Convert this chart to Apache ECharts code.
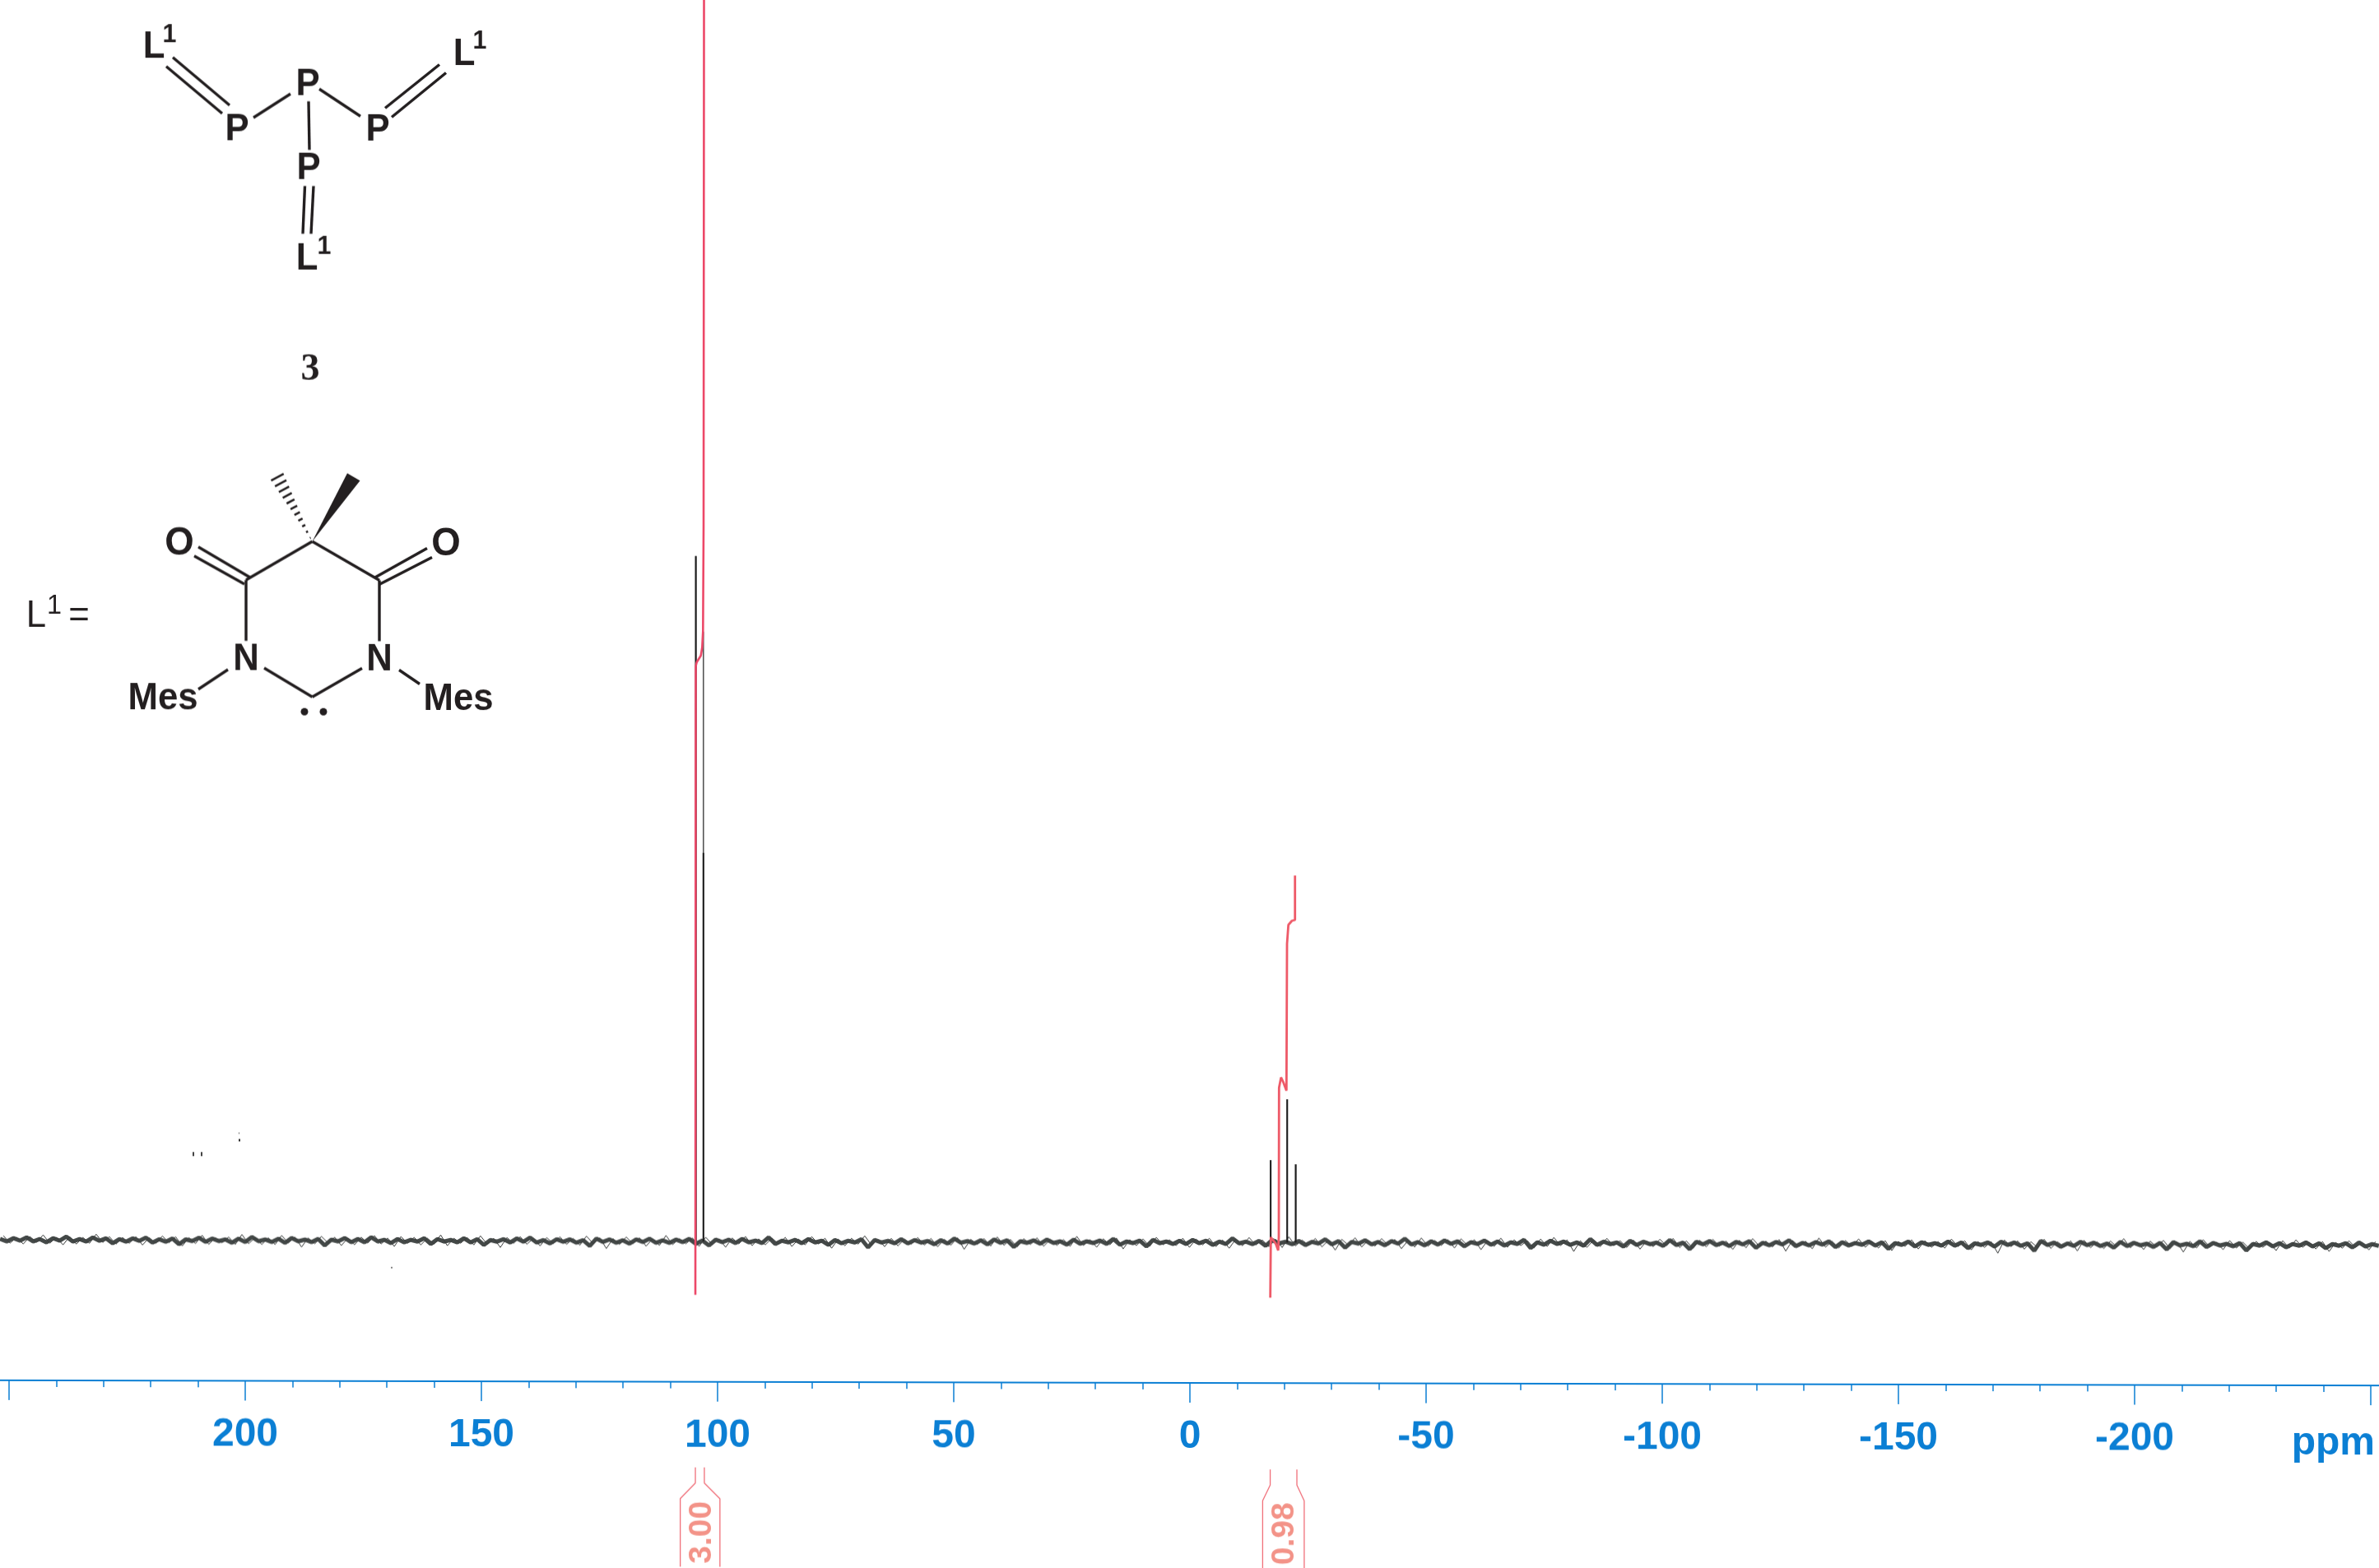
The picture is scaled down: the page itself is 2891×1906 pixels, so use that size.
<!DOCTYPE html>
<html><head><meta charset="utf-8">
<style>html,body{margin:0;padding:0;background:#fff;overflow:hidden}
#main{width:2891px;height:1906px;transform-origin:1446px 1510px;transform:skewY(0.126deg)}</style>
<script src="https://cdn.jsdelivr.net/npm/echarts@6/dist/echarts.min.js"></script>
</head><body><div id="main"></div>
<script>
const ppmMajorTicks = [200,150,100,50,0,-50,-100,-150,-200];
const baselineLevel = 170.8;
const noiseStart = 251.9, noiseEnd = -251.7;
const noise = [
 1,-2,2,-1,3,-2,1,-3,2,-1,4,-2,1,-2,3,-1,2,-4,1,-2,
 2,-1,3,-3,1,-2,2,-5,1,-1,3,-2,2,-1,1,-3,2,-2,4,-1,
 1,-2,2,-3,3,-1,1,-2,2,-6,1,-1,3,-2,2,-2,4,-1,1,-3,
 2,-2,1,-1,3,-4,2,-1,1,-2,3,-2,2,-5,1,-1,2,-2,3,-1,
 4,-2,1,-3,2,-1,2,-2,1,-6,3,-1,2,-2,1,-3,2,-1,3,-2,
 1,-2,2,-1,3,-3,1,-5,2,-1,2,-2,3,-1,1,-2,5,-3,1,-1,
 2,-2,3,-1,1,-4,2,-2,1,-1,3,-7,2,-1,1,-2,3,-2,2,-1,
 1,-3,2,-2,4,-1,1,-2,2,-3,3,-1,2,-6,1,-1,2,-2,3,-1,
 1,-3,3,-2,1,-1,2,-2,4,-3,1,-1,2,-5,3,-1,1,-2,2,-2,
 3,-1,2,-3,1,-2,5,-1,1,-2,2,-4,3,-1,1,-2,2,-3,1,-1,
 4,-2,2,-6,1,-1,3,-2,1,-3,2,-1,5,-2,1,-3,2,-2,3,-1,
 2,-4,1,-1,3,-2,2,-3,1,-1,4,-6,1,-2,3,-1,2,-2,1,-3,
 5,-2,2,-1,1,-4,3,-2,2,-1,1,-3,4,-2,1,-7,2,-1,3,-2,
 1,-3,2,-1,3,-5,1,-2,2,-1,4,-3,1,-2,2,-1,3,-4,2,-2,
 1,-1,3,-2,2,-6,1,-1,3,-3,2,-1,1,-2,3,-2,2,-5,1,-1,
 2,-3,3,-1,2,-2,1,-8,4,-1,2,-3,1,-2,3,-1,2,-2,1,-4,
 3,-2,2,-1,1,-3,2,-6,3,-1,1,-2,4,-3,2,-1,1,-2,2,-7,
 1,-1,3,-2,2,-3,1,-1,3,-2,2,-4,1,-1,2,-3,3,-2,1,-1
];
const noiseFringe = [
 5,-4,3,-5,4,-3,6,-4,3,-6,4,-5,3,-4,7,-3,4,-5,3,-4,
 4,-6,3,-4,5,-3,4,-7,3,-4,6,-5,3,-3,4,-5,7,-4,3,-5,
 3,-5,6,-3,4,-8,3,-4,5,-3,4,-6,3,-5,4,-3,6,-4,3,-7,
 5,-3,4,-5,3,-4,7,-6,3,-3,4,-5,6,-4,3,-8,4,-3,5,-4,
 3,-6,4,-3,5,-4,3,-5,6,-3,4,-9,3,-4,5,-3,4,-6,3,-5,
 7,-4,3,-3,4,-6,5,-4,3,-7,4,-3,6,-5,3,-4,4,-3,5,-6,
 3,-4,6,-3,4,-8,3,-5,4,-3,7,-4,3,-6,4,-5,3,-3,5,-4,
 4,-6,3,-4,5,-9,3,-3,4,-5,6,-4,3,-6,4,-3,5,-5,3,-4,
 3,-5,7,-4,3,-6,4,-3,5,-8,3,-4,4,-5,6,-3,3,-4,5,-6,
 4,-3,5,-5,3,-7,4,-4,6,-3,3,-5,4,-6,7,-4,3,-3,5,-5,
 3,-9,4,-3,6,-5,3,-4,5,-3,4,-7,3,-5,6,-4,3,-3,4,-6,
 5,-3,4,-8,3,-4,6,-5,4,-3,3,-6,5,-4,7,-3,4,-10,3,-5,
 4,-4,6,-3,3,-5,4,-7,3,-4,5,-3,6,-5,3,-6,4,-4,5,-3,
 3,-7,4,-5,6,-3,3,-4,5,-9,4,-3,3,-6,7,-4,3,-5,4,-3,
 6,-4,3,-5,4,-8,3,-3,5,-6,4,-4,3,-5,6,-3,4,-7,3,-4,
 3,-11,5,-3,4,-6,3,-4,6,-5,3,-3,4,-8,5,-4,3,-5,4,-3,
 7,-4,3,-6,4,-3,5,-5,3,-9,4,-4,6,-3,3,-6,5,-4,3,-5,
 4,-3,3,-7,5,-4,6,-3,3,-5,4,-8,3,-4,5,-3,3,-6,4,-4
];
const peakPpm = [104.6,103.0,-17.1,-20.6,-22.4];
const peakTop = [1003.7,911.7,271,345,266];
const peakDarkTop = [1003.7,643,271,345,266];
const integralOnePpm = [104.7,104.62,104.41,103.54,103.26,103.08,102.96,102.87];
const integralOneY = [105.7,869.7,874.7,882.7,892.7,912.7,1039.7,1695];
const integralTwoPpm = [-17.02,-17.13,-17.25,-18.12,-18.69,-18.82,-18.87,-19.29,-19.74,-20.44,-20.56,-20.85,-21.6,-22.25,-22.25];
const integralTwoY = [103.7,177.2,177.6,170.2,161.2,177.2,359,371.6,366.2,355.5,534,557,562,563,617];
const integralValues = ['3.00','0.98'];
const integralCentre = [103.2,-20.1];
const bracketLeftPpm = [[104.7,104.7,107.9,107.9],[-17.0,-17.0,-15.4,-15.4]];
const bracketRightPpm = [[102.8,102.8,99.5,99.5],[-22.65,-22.65,-24.2,-24.2]];
const bracketY = [[-104,-123,-142,-225],[-105,-124,-143,-225]];

const noiseStep = (noiseEnd-noiseStart)/(noise.length-1);
const noiseData = noise.map((v,i)=>[noiseStart+i*noiseStep, baselineLevel+v]);
const fringeData = noiseFringe.map((v,i)=>[noiseStart+(i+0.5)*noiseStep, baselineLevel+v]).filter(d=>d[0]>noiseEnd);
const BR='#f0707a', BLUE='#0b7fd4', INK='#231f20';

const lineBase={type:'line',showSymbol:false,clip:false,silent:true};
const series = [
 {...lineBase,name:'noise',data:noiseData,lineStyle:{color:'#434847',width:5},z:2},
 {...lineBase,name:'noise fringe',data:fringeData,lineStyle:{color:'#3a3d3c',width:1},z:2}
];
peakPpm.forEach((p,i)=>{
 series.push({...lineBase,name:'peak '+p,data:[[p,baselineLevel],[p,peakTop[i]]],lineStyle:{color:'#555',width:1.6},z:3});
 series.push({...lineBase,name:'peak core '+p,data:[[p,baselineLevel],[p,peakDarkTop[i]]],lineStyle:{color:'#1c1c1c',width:2},z:3});
});
series.push({...lineBase,name:'integral 1',data:integralOnePpm.map((p,i)=>[p,integralOneY[i]]),lineStyle:{color:'#ec4868',width:2.6},z:4});
series.push({...lineBase,name:'integral 2',data:integralTwoPpm.map((p,i)=>[p,integralTwoY[i]]),lineStyle:{color:'#ee5a68',width:2.8},z:4});
integralValues.forEach((t,k)=>{
 [bracketLeftPpm[k],bracketRightPpm[k]].forEach((arr,s)=>series.push({...lineBase,name:'bracket '+t+s,data:arr.map((p,i)=>[p,bracketY[k][i]]),lineStyle:{color:BR,width:1.3},z:3}));
});
series.push({name:'integral labels',type:'scatter',clip:false,symbolSize:1,itemStyle:{color:'transparent'},silent:true,
 data:integralValues.map((t,k)=>({value:[integralCentre[k],-183],name:t})),
 label:{show:true,position:'inside',rotate:90,formatter:p=>p.name,color:'#f0786a',fontSize:39,fontWeight:'bold',fontFamily:'Liberation Sans'},z:5});

// molecule drawing
const g=[];
function bond(a,b,c,d,w){g.push({type:'line',shape:{x1:a,y1:b,x2:c,y2:d},style:{stroke:INK,lineWidth:w||3.4}});}
function txt(t,x,y,size,weight,sx,fam,fill){g.push({type:'text',x:x,y:y,scaleX:sx||0.95,style:{text:t,x:0,y:0,align:'center',verticalAlign:'middle',fill:fill||INK,font:(weight||'bold')+' '+size+'px '+(fam||'"Liberation Sans"')}});}
// trisphosphine
bond(210,70,279,128);bond(202,81,270,138);
bond(308,143,353,114);bond(388,108,438,141);bond(375,123,376,182);
bond(468,131,534,78);bond(476,142,542,88);
bond(370.5,226,368,284);bond(381,226,378,284);
txt('L',187,58,46);txt('1',206,43,32);
txt('P',288,158,46);txt('P',374,103,46);txt('P',459,158,46);txt('P',375,205,46);
txt('L',564,66,46);txt('1',583,50,32);
txt('L',373,315,46);txt('1',394,300,32);
txt('3',377,450,46,'bold',1,'"Liberation Serif"');
// ligand
txt('L',44,750,46,'normal');txt('1',66,737,34,'normal');txt('=',96,750,46,'normal');
bond(379.5,658,299,705);bond(379.5,658,461,705);
bond(299,705,299,779);bond(461,705,461,779);
bond(236,676,297,710);bond(241,665,304,702);
bond(461,710,525,677);bond(455,702,519,666);
bond(321,812,379.5,847);bond(379.5,847,440,812);
bond(277,814,241,838);bond(485,814,510,831);
txt('O',218,661,48);txt('O',542,661,48);
txt('N',299,802,46);txt('N',461,802,46);
txt('Mes',198,850,46,'bold',0.95);txt('Mes',557,850,46,'bold',0.95);
g.push({type:'circle',shape:{cx:370,cy:865,r:4.5},style:{fill:INK}});
g.push({type:'circle',shape:{cx:393,cy:865,r:4.5},style:{fill:INK}});
g.push({type:'polygon',shape:{points:[[379.5,658],[422,575],[437.5,584]]},style:{fill:INK}});
for(let i=0;i<11;i++){const t=(i+0.6)/11,cx=379.5-44*t,cy=658-81*t,h=9*t;
 bond(cx-0.88*h,cy+0.48*h,cx+0.88*h,cy-0.48*h,2.6);}
const specks=[{type:'rect',shape:{x:234,y:1403,width:2,height:5},style:{fill:'#444'}},{type:'rect',shape:{x:244,y:1403,width:2,height:5},style:{fill:'#444'}},{type:'rect',shape:{x:290,y:1387,width:2,height:3},style:{fill:'#333'}},{type:'rect',shape:{x:290,y:1379,width:1,height:2},style:{fill:'#777'}},{type:'rect',shape:{x:475,y:1542,width:2,height:2},style:{fill:'#888'}}];

const option={
 animation:false,backgroundColor:'#fff',
 grid:{left:-276,width:3444,top:0,height:1681,containLabel:false,outerBoundsMode:'none'},
 xAxis:{type:'value',inverse:true,min:-300,max:300,interval:50,
  name:'ppm',nameLocation:'start',nameGap:-282,
  nameTextStyle:{color:BLUE,fontSize:48,fontWeight:'bold',fontFamily:'Liberation Sans',align:'right',verticalAlign:'top',padding:[47,0,0,0]},
  axisLine:{show:true,onZero:false,lineStyle:{color:BLUE,width:2}},
  axisTick:{show:true,length:24,inside:false,lineStyle:{color:BLUE,width:1.5}},
  minorTick:{show:true,splitNumber:5,length:8,lineStyle:{color:BLUE,width:1.5}},
  splitLine:{show:false},minorSplitLine:{show:false},
  axisLabel:{show:true,margin:42,color:BLUE,fontSize:48,fontWeight:'bold',fontFamily:'Liberation Sans',hideOverlap:false,
   formatter:v=>ppmMajorTicks.includes(v)?String(v):''}},
 yAxis:{type:'value',min:0,max:1681,show:false,splitLine:{show:false}},
 graphic:[{type:'group',x:0,y:2.5,silent:true,children:g},{type:'group',silent:true,children:specks}],
 series:series
};
echarts.init(document.getElementById('main')).setOption(option);
</script></body></html>
